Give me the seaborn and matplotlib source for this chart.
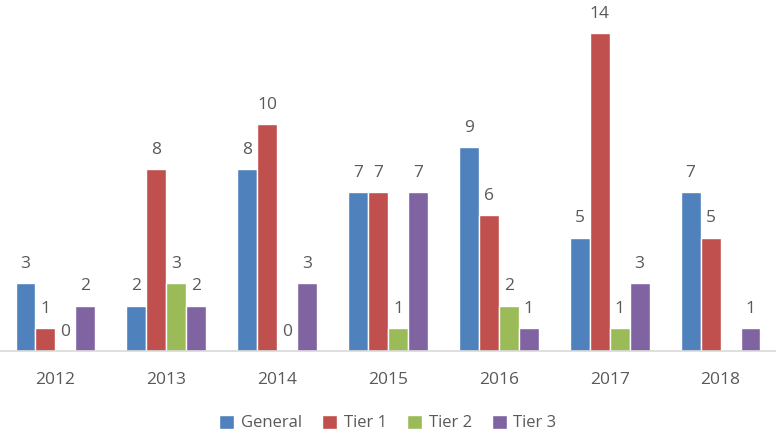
import pandas as pd
import numpy as np
import matplotlib
matplotlib.use("Agg")
import matplotlib.pyplot as plt
import seaborn as sns

years = ["2012", "2013", "2014", "2015", "2016", "2017", "2018"]
general = [3, 2, 8, 7, 9, 5, 7]
tier1 = [1, 8, 10, 7, 6, 14, 5]
tier2 = [0, 3, 0, 1, 2, 1, np.nan]
tier3 = [2, 2, 3, 7, 1, 3, 1]
series = ["General", "Tier 1", "Tier 2", "Tier 3"]
colors = ["#4F81BD", "#C0504D", "#9BBB59", "#8064A2"]

rows = []
for name, vals in zip(series, [general, tier1, tier2, tier3]):
    for y, v in zip(years, vals):
        rows.append({"Year": y, "Series": name, "Value": v})
df = pd.DataFrame(rows)

sns.set_style("white")
plt.rcParams["font.family"] = ["Open Sans", "DejaVu Sans"]
text_col = "#595959"

fig = plt.figure(figsize=(7.76, 4.34), dpi=100)
ax = fig.add_axes([0, 1 - 351 / 434, 1, (351 - 10.5) / 434])

sns.barplot(data=df, x="Year", y="Value", hue="Series", palette=colors,
            width=0.72, saturation=1, ax=ax, legend=True)

# value labels above each bar (missing values get no label)
for cont in ax.containers:
    for bar in cont:
        if bar is None or np.isnan(bar.get_height()):
            continue
        h = bar.get_height()
        ax.annotate(str(int(h)), (bar.get_x() + bar.get_width() / 2, h),
                    xytext=(0, 8), textcoords="offset points",
                    ha="center", va="bottom", fontsize=12.5, color=text_col)

ax.set_xlim(-0.5, 6.5)
ax.set_ylim(0, 15)
ax.set_xlabel("")
ax.set_ylabel("")
ax.set_yticks([])
for s in ["top", "right", "left"]:
    ax.spines[s].set_visible(False)
ax.spines["bottom"].set_color("#D9D9D9")
ax.spines["bottom"].set_linewidth(1.2)
ax.tick_params(axis="x", length=0, labelsize=12.5, labelcolor=text_col, pad=15)

handles, labs = ax.get_legend_handles_labels()
ax.get_legend().remove()
fig.legend(handles, labs, loc="center", bbox_to_anchor=(0.5, 0.025), ncol=4,
           frameon=False, fontsize=12, labelcolor=text_col,
           handlelength=0.9, handleheight=0.9, handletextpad=0.4, columnspacing=1.2)

fig.savefig("out.png", dpi=100)
